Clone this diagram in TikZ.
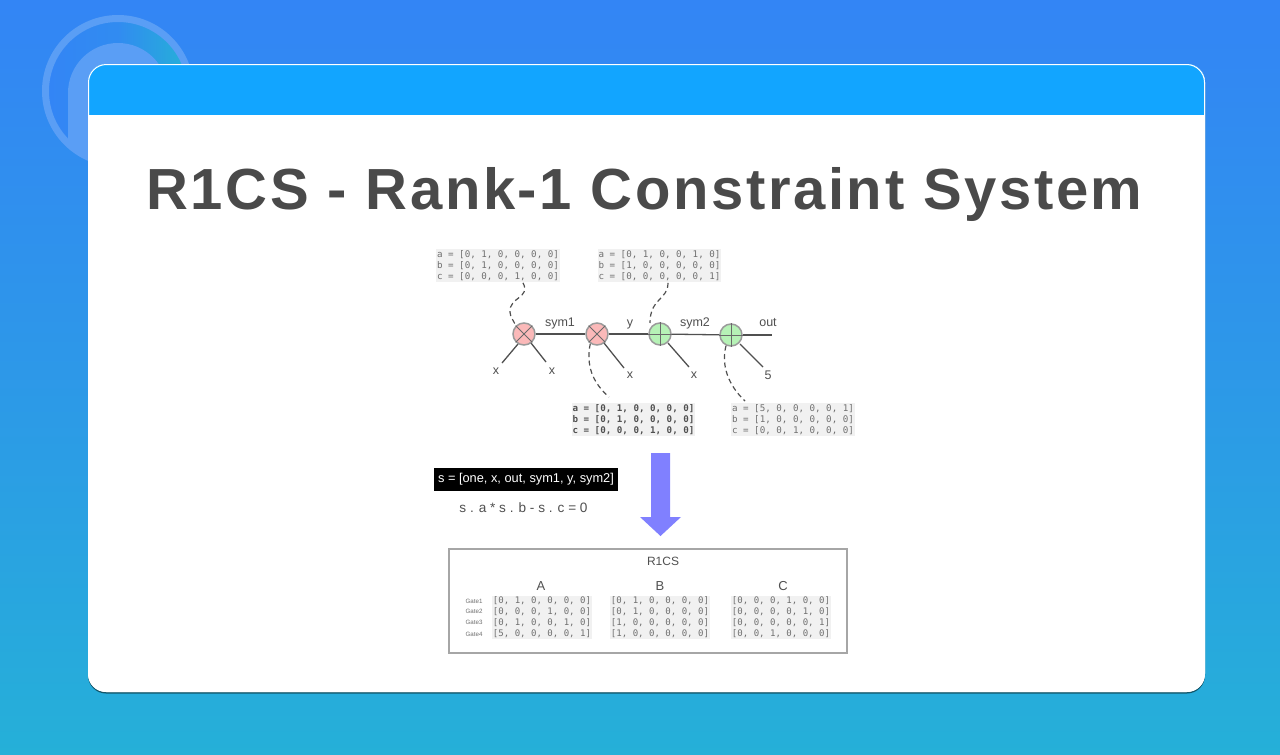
\documentclass[tikz,border=0pt]{standalone}
\usepackage{fontspec}
\setmainfont{Liberation Sans}
\setmonofont{DejaVu Sans Mono}
\newfontfamily\titlefont[LetterSpace=4.5]{Liberation Sans Bold}
\usetikzlibrary{shapes.geometric}
\definecolor{bgtop}{HTML}{3385F5}
\definecolor{bgbot}{HTML}{25B0D8}
\definecolor{hdr}{HTML}{12A5FF}
\definecolor{ink}{HTML}{4A4A4A}
\definecolor{soft}{HTML}{505050}
\definecolor{codebg}{HTML}{F1F1F1}
\definecolor{codeink}{HTML}{707070}
\definecolor{gatered}{HTML}{FBB9B9}
\definecolor{gategreen}{HTML}{B6F2B6}
\definecolor{gatering}{HTML}{9A9A9A}
\definecolor{arrowblue}{HTML}{8080FF}
\definecolor{logoring}{HTML}{5A9EF5}
\tikzset{
  gate/.style={circle,draw=gatering,line width=1.5pt,minimum size=22pt,inner sep=0pt},
  mulgate/.style={gate,fill=gatered},
  addgate/.style={gate,fill=gategreen},
  gatemark/.style={draw=soft!85,line width=1pt},
  wire/.style={draw=soft,line width=1.3pt},
  dashlink/.style={draw=soft,line width=1.2pt,dash pattern=on 5pt off 3.5pt},
  lbl/.style={font=\fontsize{12.5}{14}\selectfont,text=soft,inner sep=0pt},
  codebox/.style={fill=codebg,inner sep=1pt,text=codeink,align=left,
    font=\ttfamily\fontsize{9.2}{11}\selectfont},
  boldbox/.style={codebox,text=soft,font=\ttfamily\bfseries\fontsize{9.2}{11}\selectfont},
  matbox/.style={fill=codebg,inner sep=1pt,text=codeink,align=left,
    font=\ttfamily\fontsize{9.05}{10.9}\selectfont},
  gatelbl/.style={text=codeink,inner sep=0pt,font=\fontsize{6.2}{8}\selectfont},
  collbl/.style={text=soft,inner sep=0pt,font=\fontsize{13}{15}\selectfont},
}
\begin{document}
\begin{tikzpicture}[x=1pt,y=-1pt]
\useasboundingbox (0,0) rectangle (1280,755);
\shade[top color=bgtop,bottom color=bgbot,middle color=bgtop!55!bgbot] (0,0) rectangle (1280,755);
% logo
\shade[left color=bgtop,right color=bgbot,middle color=bgtop!85!bgbot] (118,91) circle (70);
\fill[logoring] (68,143) -- (68,93) arc[start angle=180,end angle=360,radius=50] -- (168,165) -- (95,165) -- cycle;
\draw[logoring,line width=7pt] (118,91) circle (72.5);
% card
\fill[black!30!bgbot!70!black] (88,66) [rounded corners=18pt] rectangle (1205,693.5);
\fill[white,rounded corners=18pt] (88,64) rectangle (1205,692);
\begin{scope}
\clip[rounded corners=18pt] (88,64) rectangle (1205,692);
\fill[hdr] (88,64) rectangle (1205,115);
\end{scope}
\draw[white,line width=1pt,rounded corners=18pt] (88.5,64.5) rectangle (1204.5,691.5);
% title
\node[inner sep=0pt,text=ink,font=\titlefont\fontsize{58}{62}\selectfont] (title) at (644.5,195) {R1CS - Rank-1 Constraint System};
% code boxes
\node[codebox] (b1) at (498,265.5) {a = [0, 1, 0, 0, 0, 0]\\b = [0, 1, 0, 0, 0, 0]\\c = [0, 0, 0, 1, 0, 0]};
\node[codebox] (b2) at (659.5,265.5) {a = [0, 1, 0, 0, 1, 0]\\b = [1, 0, 0, 0, 0, 0]\\c = [0, 0, 0, 0, 0, 1]};
\node[boldbox] (b3) at (633.5,419.5) {a = [0, 1, 0, 0, 0, 0]\\b = [0, 1, 0, 0, 0, 0]\\c = [0, 0, 0, 1, 0, 0]};
\node[codebox] (b4) at (793,419.5) {a = [5, 0, 0, 0, 0, 1]\\b = [1, 0, 0, 0, 0, 0]\\c = [0, 0, 1, 0, 0, 0]};
% gates
\coordinate (lineend) at (772,335);
\node[mulgate] (g1) at (524,334) {};
\node[mulgate] (g2) at (597,334) {};
\node[addgate] (g3) at (660,334) {};
\node[addgate] (g4) at (731,335) {};
\draw[wire] (g1) -- (g2);
\draw[wire] (g2) -- (g3);
\draw[wire] (g3) -- (g4);
\draw[wire] (g4) -- (lineend);
\draw[gatemark] (g1.45) -- (g1.225) (g1.135) -- (g1.315);
\draw[gatemark] (g2.45) -- (g2.225) (g2.135) -- (g2.315);
\draw[gatemark] (g3.north) -- (g3.south) (g3.west) -- (g3.east);
\draw[gatemark] (g4.north) -- (g4.south) (g4.west) -- (g4.east);
% leg ends
\coordinate (e1) at (502,363);
\coordinate (e2) at (546,362);
\coordinate (e3) at (624,368);
\coordinate (e4) at (689,367);
\coordinate (e5) at (763,367);
\draw[wire] (g1) ++(-6,10) -- (e1);
\draw[wire] (g1) ++(7,9) -- (e2);
\draw[wire] (g2) ++(7,9) -- (e3);
\draw[wire] (g3) ++(8,9) -- (e4);
\draw[wire] (g4) ++(9,9) -- (e5);
% labels
\node[lbl] (lx1) at (496,371) {x};
\node[lbl] (lx2) at (552,371) {x};
\node[lbl] (lx3) at (630,375) {x};
\node[lbl] (lx4) at (694,375) {x};
\node[lbl] (l5) at (768,375) {5};
\node[lbl] (s1) at (560,323) {sym1};
\node[lbl] (ly) at (630,324) {y};
\node[lbl] (s2) at (695,323) {sym2};
\node[lbl] (lo) at (768,323) {out};
% dashed links
\draw[dashlink] (b1.south -| 523,0) ++(0,1) .. controls (531,298) and (509,297) .. (510,312) .. controls (510,317) and (514,321) .. (g1.135);
\draw[dashlink] (b2.south -| 668,0) ++(0,1) .. controls (668,300) and (650,298) .. (650,323);
\draw[dashlink] (g2.235) .. controls (586,365) and (592,382) .. (609,397);
\draw[dashlink] (g4.245) .. controls (721,365) and (728,385) .. (745,401);
% state vector
\node[fill=black,text=white,minimum width=184pt,minimum height=23pt,inner sep=0pt,font=\fontsize{12.8}{14}\selectfont] (s) at (526,479.5) {s = [one, x, out, sym1, y, sym2]};
\node[text=soft,inner sep=0pt,font=\fontsize{13.6}{15}\selectfont] (eq) at (523.5,508) {s . a * s . b - s . c = 0};
% block arrow
\fill[arrowblue] (651,453) -- (670,453) -- (670,517) -- (681,517) -- (660.5,536) -- (640,517) -- (651,517) -- cycle;
% R1CS panel
\draw[draw=black!35,line width=2pt] (448.5,548.5) rectangle (846.5,653);
\node[inner sep=0pt,text=soft,font=\fontsize{12}{14}\selectfont] (rt) at (663,561) {R1CS};
\node[collbl] (ca) at (541,586) {A};
\node[collbl] (cb) at (660,586) {B};
\node[collbl] (cc) at (783,586) {C};
\node[gatelbl] (g1l) at (474,601) {Gate1};
\node[gatelbl] (g2l) at (474,611.5) {Gate2};
\node[gatelbl] (g3l) at (474,622) {Gate3};
\node[gatelbl] (g4l) at (474,634) {Gate4};
\node[matbox] (ma) at (542,617.5) {[0, 1, 0, 0, 0, 0]\\{}[0, 0, 0, 1, 0, 0]\\{}[0, 1, 0, 0, 1, 0]\\{}[5, 0, 0, 0, 0, 1]};
\node[matbox] (mb) at (660,617.5) {[0, 1, 0, 0, 0, 0]\\{}[0, 1, 0, 0, 0, 0]\\{}[1, 0, 0, 0, 0, 0]\\{}[1, 0, 0, 0, 0, 0]};
\node[matbox] (mc) at (781,617.5) {[0, 0, 0, 1, 0, 0]\\{}[0, 0, 0, 0, 1, 0]\\{}[0, 0, 0, 0, 0, 1]\\{}[0, 0, 1, 0, 0, 0]};
\end{tikzpicture}
\end{document}
